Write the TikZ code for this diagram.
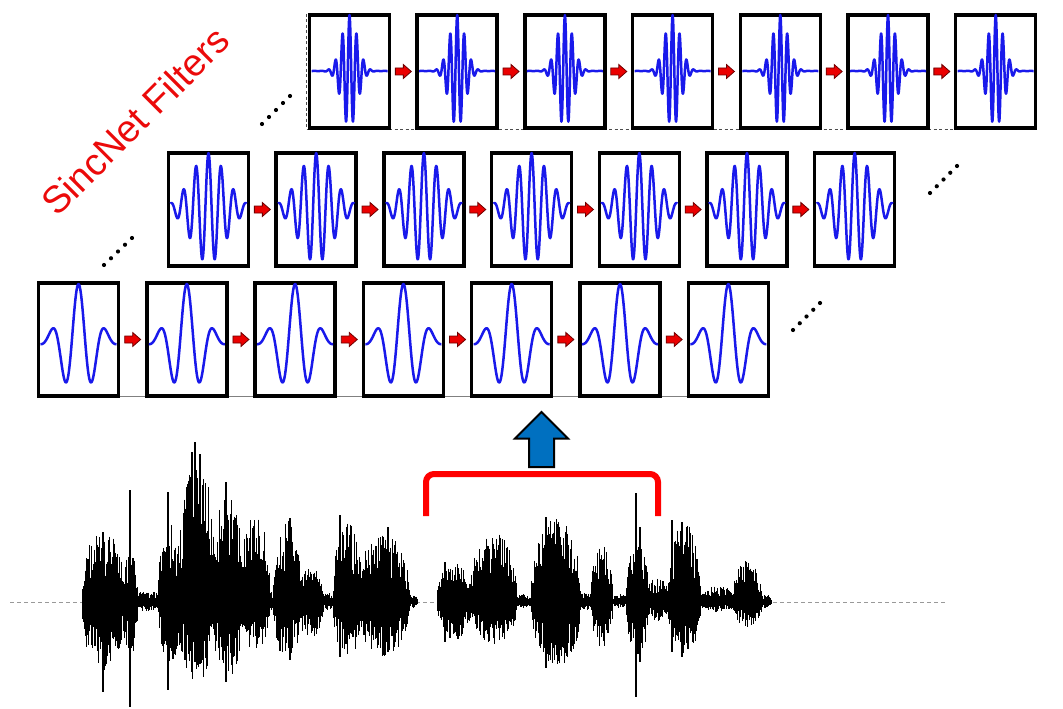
\documentclass[tikz,border=0pt]{standalone}
\usepackage{fontspec}
\setmainfont{Liberation Sans}
\usetikzlibrary{calc}
\definecolor{fblue}{RGB}{25,25,235}
\definecolor{arrred}{RGB}{235,0,0}
\definecolor{arrdark}{RGB}{110,0,0}
\definecolor{upblue}{RGB}{0,112,192}
\definecolor{titlered}{RGB}{235,10,10}
\begin{document}
\begin{tikzpicture}[x=1pt,y=-1pt,
  filterbox/.style={draw=black, line width=3.5pt, fill=white, minimum width=80pt, minimum height=113pt, inner sep=0pt},
  curve/.style={fblue, line width=2.5pt, line join=round},
  wave/.style={black, line width=0.75pt},
  redarr/.pic={\path[fill=arrred, draw=arrdark, line width=0.8pt] (-8,-3.5) -- (0,-3.5) -- (0,-7) -- (8,0) -- (0,7) -- (0,3.5) -- (-8,3.5) -- cycle;}]
\useasboundingbox (0,0) rectangle (1063,709);

% frame lines behind the rows
\draw[gray!60!black, dash pattern=on 3pt off 2.5pt, line width=1pt] (306,14) -- (306,129) -- (955,129);
\draw[gray, line width=1pt] (37,396) -- (770,396);

% top row
\foreach \i in {1,...,7} {
  \pgfmathsetmacro\tx{349.5+107.7*(\i-1)}
  \node[filterbox] (t\i) at (\tx,71.5) {};
  \draw[curve] plot[domain=-38:38, samples=241] ({\tx+\x},{71-56*cos(360*\x/7)*exp(-\x*\x/121)});
}
% middle row
\foreach \i in {1,...,7} {
  \pgfmathsetmacro\mx{208.5+107.7*(\i-1)}
  \node[filterbox] (m\i) at (\mx,209.5) {};
  \draw[curve] plot[domain=-38:38, samples=181] ({\mx+\x},{208-55*cos(360*\x/12.5)*exp(-\x*\x/576)});
}
% bottom row
\foreach \i in {1,...,7} {
  \pgfmathsetmacro\bx{78.5+108.3*(\i-1)}
  \node[filterbox] (b\i) at (\bx,339.5) {};
  \draw[curve] plot[domain=-38:38, samples=121] ({\bx+\x},{342-58*cos(360*\x/27)*exp(-\x*\x/471)});
}
% red arrows between boxes
\foreach \i [evaluate=\i as \j using int(\i+1)] in {1,...,6} {
  \pic at ($(t\i.east)!0.5!(t\j.west)$) {redarr};
  \pic at ($(m\i.east)!0.5!(m\j.west)$) {redarr};
  \pic at ($(b\i.east)!0.5!(b\j.west)$) {redarr};
}

% dots
\foreach \ax/\ay/\bx/\by in {262/124/290/96, 104/265/132/238, 930/193/957/166, 793/330/820/303} {
  \foreach \k in {0,...,4} \fill ({\ax+(\bx-\ax)*\k/4},{\ay+(\by-\ay)*\k/4}) circle (2.1pt);
}

% title
\node[text=titlered, rotate=45, anchor=center, font=\fontsize{38}{40}\selectfont, inner sep=0pt] (title) at (135,121) {SincNet Filters};

% blue up arrow
\draw[fill=upblue, line width=2pt, line join=miter] (541.5,412) -- (568,438.5) -- (554,438.5) -- (554,467) -- (529,467) -- (529,438.5) -- (515,438.5) -- cycle;

% red bracket
\draw[red, line width=6pt, rounded corners=8pt] (426,516) -- (426,474) -- (658,474) -- (658,516);

% speech waveform
\draw[gray!80, dash pattern=on 4pt off 3pt, line width=0.8pt] (10,602) -- (945,602);
\draw[black, line width=1.3pt] (82,602) -- (412,602) (437,602) -- (768,602);
\pgfmathsetseed{11}
\foreach \xa/\xb/\ta/\ba in {82/124/75/72, 122/138/55/55, 135/160/12/10, 158/182/80/70, 178/216/145/80, 212/244/110/75, 240/270/90/50, 268/275/10/8, 273/301/82/58, 298/324/38/38, 322/334/10/8, 333/362/82/58, 356/410/68/55, 406/418/8/6, 437/472/40/38, 470/517/70/42, 514/533/8/6, 531/581/84/66, 578/593/10/8, 591/613/56/45, 611/628/8/6, 626/649/60/55, 645/669/25/20, 668/701/80/55, 699/736/16/10, 733/762/42/26, 758/772/8/6} {
  \pgfmathsetmacro\xs{\xa+0.6}
  \foreach \x in {\xa,\xs,...,\xb} {
    \pgfmathsetmacro\u{(\x-\xa)/(\xb-\xa)}
    \pgfmathsetmacro\e{pow(max(sin(180*\u),0.0001),0.4)}
    \pgfmathsetmacro\tp{602-\ta*\e*(0.35+0.65*rnd)}
    \pgfmathsetmacro\bt{602+\ba*\e*(0.35+0.65*rnd)}
    \draw[wave] (\x,\tp) -- (\x,\bt);
  }
}
\foreach \x/\ta/\ba in {103/70/90, 130/112/105, 168/110/88, 192/150/70, 195/160/60, 200/148/62, 226/120/80, 290/84/58, 340/87/55, 388/75/50, 445/40/40, 546/85/66, 636/109/95, 640/75/60, 672/82/50, 682/80/55} {
  \draw[wave, line width=1.1pt] (\x,{602-\ta}) -- (\x,{602+\ba});
}
\end{tikzpicture}
\end{document}
